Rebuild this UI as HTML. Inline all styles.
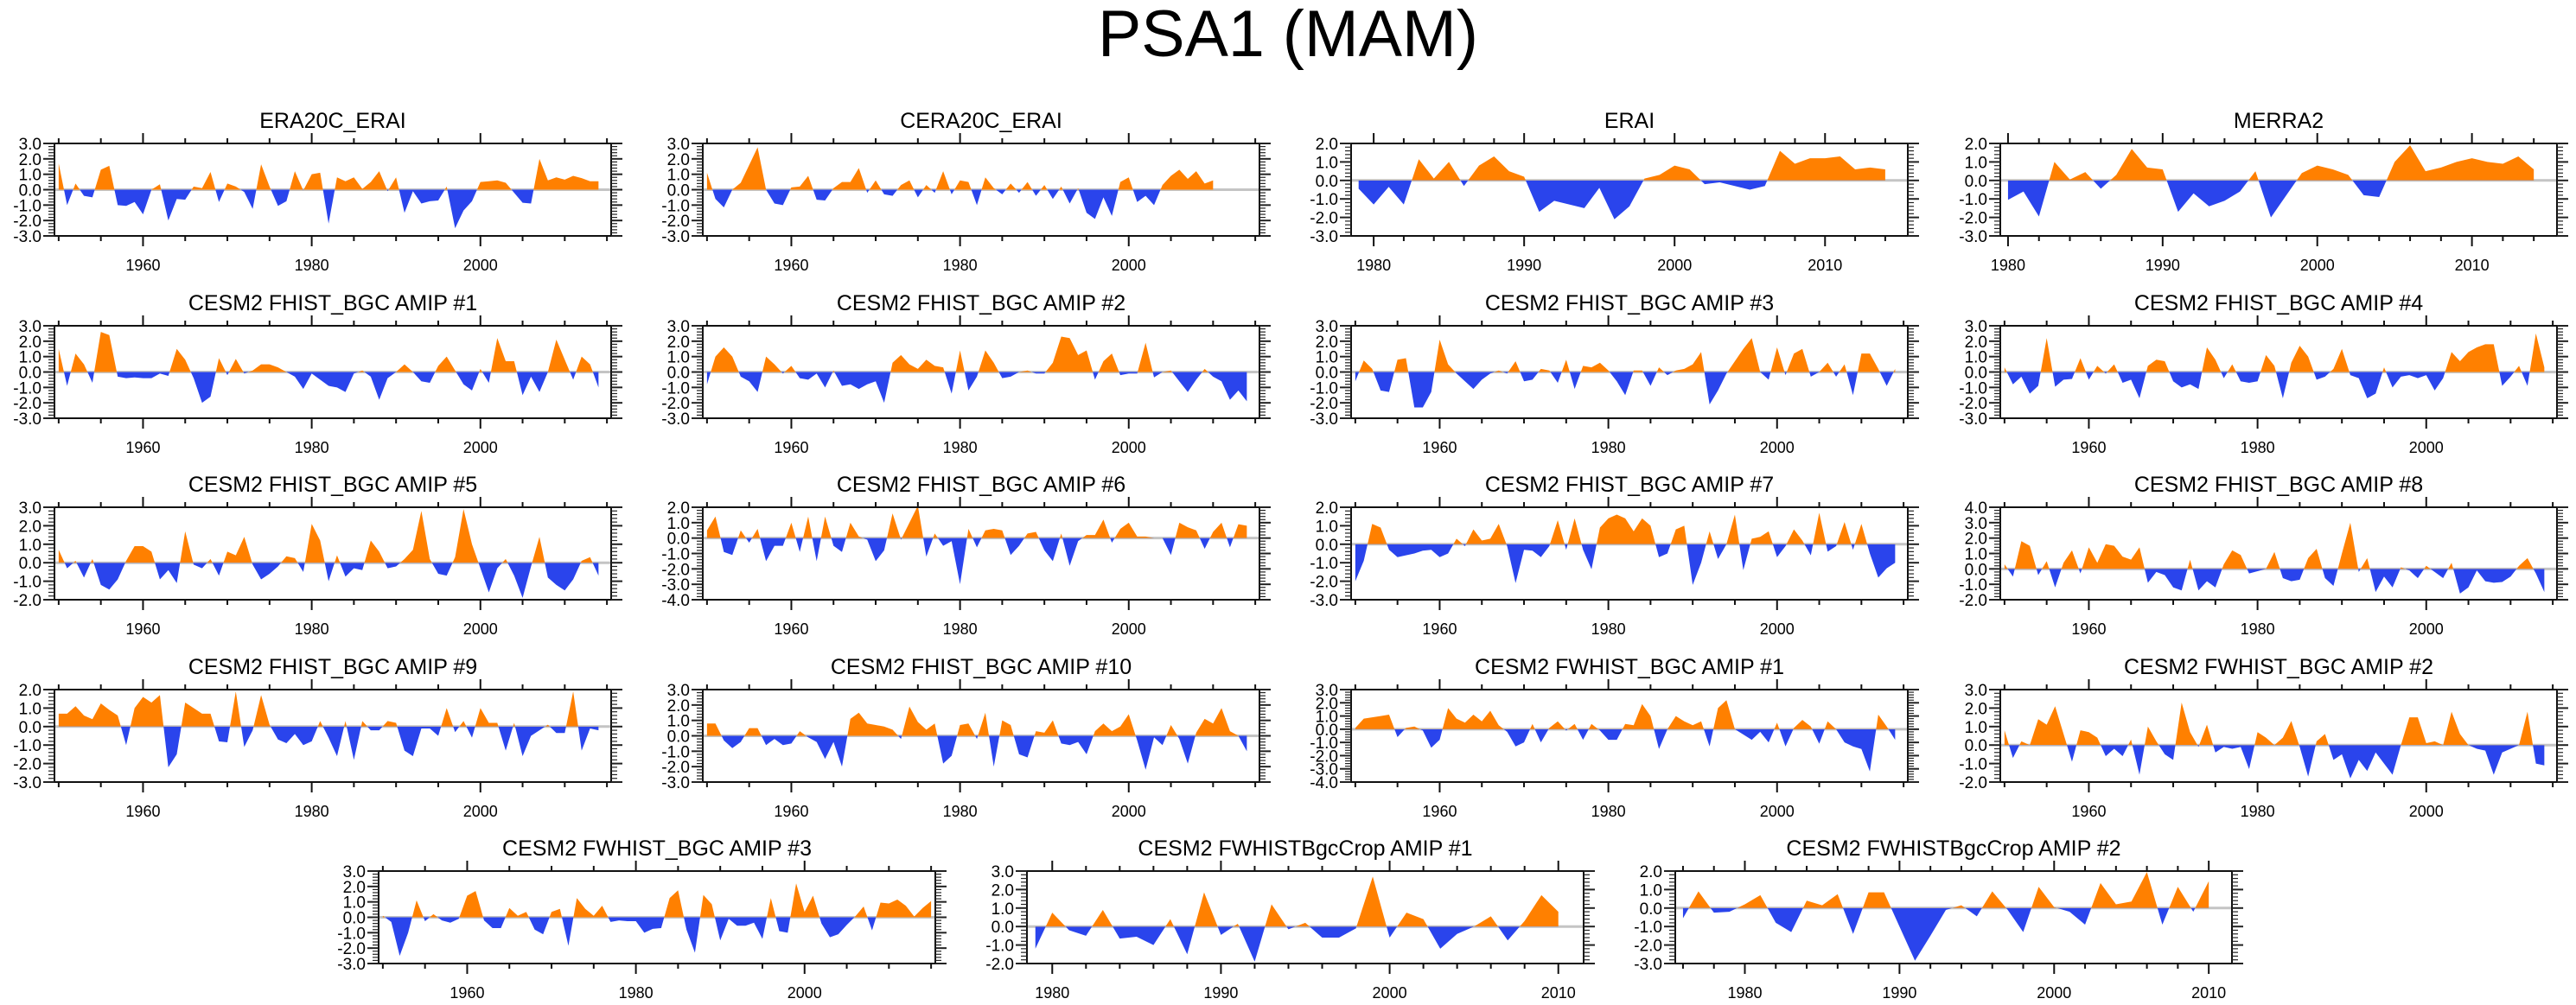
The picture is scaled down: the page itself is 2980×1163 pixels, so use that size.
<!DOCTYPE html>
<html>
<head>
<meta charset="utf-8">
<style>
html,body{margin:0;padding:0;background:#fff;}
svg{display:block;}
text{font-family:"Liberation Sans",Arial,sans-serif;fill:#000;}
</style>
</head>
<body>
<svg id="chart" width="2980" height="1163" viewBox="0 0 2980 1163" xmlns="http://www.w3.org/2000/svg">
<text x="1490" y="65" text-anchor="middle" font-size="76" textLength="440" lengthAdjust="spacingAndGlyphs">PSA1 (MAM)</text>
<g id="panels"></g>
</svg>
<script>
// ---- data (values per year, starting at the given first year) ----
const era20c = [1.7,-1.0,0.4,-0.4,-0.5,1.3,1.55,-1.0,-1.05,-0.8,-1.6,0.0,0.35,-2.0,-0.6,-0.65,0.2,0.1,1.15,-0.8,0.4,0.2,-0.15,-1.25,1.65,0.2,-1.05,-0.75,1.2,-0.05,1.0,1.1,-2.2,0.8,0.55,0.8,0.05,0.5,1.2,-0.1,0.8,-1.5,-0.1,-0.9,-0.75,-0.7,0.2,-2.5,-1.35,-0.75,0.5,0.55,0.6,0.45,-0.2,-0.85,-0.9,2.0,0.6,0.8,0.65,0.9,0.75,0.55,0.55];
const cera20c = [1.1,-0.6,-1.15,0.0,0.45,1.6,2.75,0.0,-0.9,-1.0,0.15,0.2,0.9,-0.65,-0.7,0.1,0.5,0.5,1.4,-0.2,0.6,-0.3,-0.4,0.3,0.6,-0.5,0.3,-0.2,1.2,-0.3,0.6,0.5,-1.0,0.8,0.1,-0.3,0.4,-0.2,0.5,-0.4,0.3,-0.6,0.2,-0.9,0.1,-1.5,-1.9,-0.5,-1.7,0.5,0.8,-0.8,-0.4,-1.0,0.3,0.9,1.3,0.7,1.2,0.4,0.6];
const erai = [-0.45,-1.3,-0.35,-1.3,1.15,0.1,1.0,-0.3,0.8,1.3,0.5,0.2,-1.7,-1.1,-1.3,-1.5,-0.4,-2.1,-1.4,0.1,0.3,0.8,0.6,-0.2,-0.1,-0.3,-0.5,-0.3,1.6,0.9,1.2,1.2,1.3,0.6,0.7,0.6];
const merra2 = [-1.05,-0.6,-1.95,1.0,0.05,0.45,-0.45,0.3,1.7,0.7,0.6,-1.7,-0.7,-1.4,-1.1,-0.6,0.5,-2.0,-0.8,0.4,0.8,0.6,0.3,-0.8,-0.9,1.0,1.9,0.5,0.7,1.0,1.2,1.0,0.9,1.3,0.6];
const fhist1 = [1.5,-0.9,1.2,0.5,-0.7,2.6,2.4,-0.3,-0.4,-0.35,-0.4,-0.4,-0.1,-0.25,1.5,0.8,-0.4,-2.0,-1.6,0.9,-0.2,0.85,-0.1,0.1,0.5,0.5,0.3,0.0,-0.3,-1.1,-0.1,-0.5,-0.9,-1.0,-1.3,-0.1,0.1,-0.3,-1.8,-0.4,0.0,0.5,0.0,-0.6,-0.7,0.4,1.0,0.1,-0.8,-1.2,0.2,-0.7,2.2,0.7,0.7,-1.5,-0.3,-1.3,0.0,2.1,0.8,-0.5,1.0,0.5,-1.0];
const fhist2 = [-0.8,1.0,1.6,1.0,-0.3,-0.6,-1.3,1.0,0.5,-0.1,0.4,-0.4,-0.5,-0.1,-1.0,0.1,-0.9,-0.8,-1.1,-0.8,-0.6,-2.0,0.6,1.1,0.5,0.2,0.8,0.4,0.3,-1.4,1.4,-1.2,-0.3,1.4,0.6,-0.4,-0.3,0.0,0.1,-0.1,-0.1,0.6,2.3,2.2,1.1,1.4,-0.5,0.7,1.2,-0.2,-0.1,-0.1,1.9,-0.35,0.0,0.1,-0.6,-1.3,-0.5,0.2,-0.3,-0.6,-1.8,-1.2,-1.9];
const fhist3 = [-0.6,0.75,0.2,-1.2,-1.3,0.8,0.9,-2.3,-2.3,-1.3,2.1,0.5,-0.1,-0.6,-1.1,-0.5,-0.1,0.1,-0.1,0.7,-0.6,-0.5,0.2,0.1,-0.7,0.8,-1.1,0.4,0.3,0.6,0.1,-0.6,-1.5,0.1,0.1,-0.9,0.3,-0.2,0.1,0.2,0.5,1.3,-2.1,-1.2,-0.1,0.7,1.5,2.2,0.0,-0.5,1.6,-0.2,1.2,1.5,-0.3,0.0,0.6,-0.3,0.5,-1.5,1.2,1.2,0.2,-0.9,0.2];
const fhist4 = [0.3,-0.8,-0.3,-1.4,-0.9,2.2,-0.95,-0.5,-0.45,0.9,-0.5,0.4,-0.1,0.5,-0.7,-0.5,-1.7,0.4,0.8,0.7,-0.6,-1.0,-0.8,-1.1,1.6,0.8,-0.4,0.5,-0.6,-0.7,-0.6,1.1,0.4,-1.7,0.6,1.7,1.0,-0.5,-0.3,0.2,1.5,-0.2,-0.4,-1.7,-1.4,0.3,-1.0,-0.3,-0.2,-0.4,-0.2,-1.2,-0.4,1.3,0.7,1.3,1.6,1.8,1.8,-0.9,-0.3,0.4,-0.9,2.5,0.3];
const fhist5 = [0.7,-0.3,0.1,-0.8,0.2,-1.2,-1.45,-0.9,0.1,0.9,0.9,0.6,-0.9,-0.4,-1.1,1.7,-0.1,-0.3,0.2,-0.7,0.6,0.4,1.4,-0.1,-0.9,-0.6,-0.2,0.35,0.25,-0.5,2.1,1.2,-1.0,0.4,-0.75,-0.3,-0.4,1.2,0.6,-0.3,-0.2,0.2,0.7,2.8,0.2,-0.6,-0.7,0.3,2.9,1.0,-0.3,-1.6,-0.3,0.2,-0.7,-1.9,-0.2,1.4,-0.8,-1.2,-1.5,-0.9,0.1,0.3,-0.7];
const fhist6 = [0.5,1.4,-0.9,-1.1,0.5,-0.3,0.6,-1.5,-0.5,-0.5,1.0,-0.9,1.4,-1.5,1.4,-0.5,-0.9,1.0,0.1,-0.1,-1.5,-0.8,1.6,-0.1,1.0,2.1,-1.2,0.3,-0.5,-0.2,-3.0,0.6,-0.6,0.5,0.6,0.5,-1.1,-0.5,0.3,0.4,-0.8,-1.5,0.3,-1.8,-0.2,0.2,0.2,1.2,-0.3,0.6,1.0,0.1,0.1,0.0,0.0,-1.1,1.0,0.7,0.5,-0.7,0.4,1.0,-0.6,0.9,0.8];
const fhist7 = [-2.0,-0.9,1.1,0.9,-0.3,-0.7,-0.6,-0.5,-0.35,-0.3,-0.7,-0.5,0.3,-0.1,0.8,0.2,0.3,1.1,-0.1,-2.1,-0.3,-0.35,-0.7,-0.1,1.3,-0.3,1.4,-0.3,-1.35,0.9,1.4,1.6,1.4,0.7,1.4,1.0,-0.7,-0.5,0.8,1.0,-2.2,-1.0,0.7,-0.8,0.0,1.6,-1.4,0.3,0.4,0.7,-0.7,-0.1,0.8,0.2,-0.6,1.7,-0.4,-0.1,1.2,-0.3,1.1,-0.5,-1.8,-1.3,-1.0];
const fhist8 = [0.3,-0.5,1.8,1.5,-0.4,0.5,-1.2,0.4,1.2,-0.3,1.4,0.4,1.6,1.5,0.8,0.6,1.4,-0.9,-0.2,-0.4,-1.2,-1.4,0.6,-1.4,-0.8,-1.2,0.3,1.2,0.9,-0.3,-0.15,0.0,1.1,-0.6,-0.8,-0.7,0.7,1.3,-0.6,-1.1,1.0,3.0,-0.2,0.7,-1.5,-0.5,-1.2,0.1,-0.1,-0.6,0.2,-0.2,-0.6,0.4,-1.6,-1.2,-0.1,-0.8,-0.9,-0.85,-0.5,0.2,0.7,-0.3,-1.5];
const fhist9 = [0.7,0.7,1.1,0.6,0.4,1.25,0.9,0.6,-1.0,1.0,1.6,1.3,1.7,-2.2,-1.5,1.3,1.0,0.7,0.7,-0.8,-0.85,1.9,-1.1,-0.2,1.7,0.1,-0.7,-0.9,-0.4,-1.0,-0.8,0.3,-0.6,-1.6,0.3,-1.8,0.3,-0.2,-0.2,0.3,0.2,-1.3,-1.6,-0.1,-0.1,-0.5,1.0,-0.3,0.3,-0.6,1.0,0.2,0.2,-1.3,0.2,-1.6,-0.5,-0.2,0.1,-0.35,-0.35,1.9,-1.3,-0.1,-0.2];
const fhist10 = [0.8,0.8,-0.3,-0.8,-0.4,0.5,0.5,-0.6,-0.2,-0.6,-0.5,0.3,-0.1,-0.4,-1.5,-0.4,-2.0,1.1,1.5,0.8,0.7,0.6,0.4,-0.2,1.9,0.9,0.4,0.8,-1.8,-1.3,0.7,0.8,-0.2,1.5,-2.0,1.0,0.7,-1.2,-1.4,0.3,0.2,1.0,-0.5,-0.6,-0.4,-1.2,0.3,0.8,0.3,0.6,1.4,-0.3,-2.2,-0.1,-0.6,0.7,-0.2,-1.8,0.2,1.1,0.8,1.8,0.3,0.0,-1.0];
const fwhist1 = [0.1,0.8,0.9,1.0,1.1,-0.6,0.1,0.2,-0.1,-1.4,-0.8,1.6,0.8,0.5,1.1,0.6,1.4,0.3,-0.2,-1.3,-1.0,0.4,-1.0,0.1,0.6,-0.1,0.4,-0.8,0.4,-0.1,-0.8,-0.8,0.4,0.3,1.9,1.0,-1.5,0.0,1.0,0.6,0.3,0.6,-1.3,1.6,2.2,0.0,-0.4,-0.8,-0.2,-1.0,0.5,-1.3,0.1,0.7,0.2,-1.1,0.6,0.0,-1.0,-1.3,-1.5,-3.2,1.1,0.2,-0.8];
const fwhist2 = [0.8,-0.7,0.2,0.0,1.4,1.1,2.1,0.6,-0.9,0.8,0.7,0.4,-0.6,-0.2,-0.6,0.3,-1.6,1.0,0.2,-0.5,-0.8,2.3,0.7,-0.1,1.1,-0.4,-0.1,-0.2,-0.1,-1.3,0.7,0.4,0.0,0.4,1.3,-0.1,-1.7,0.2,0.6,-0.8,-0.5,-1.8,-0.8,-1.4,-0.4,-1.0,-1.6,0.0,1.5,1.5,0.1,0.2,0.0,1.8,0.6,0.0,-0.2,-0.3,-1.6,-0.4,-0.2,0.0,1.8,-1.0,-1.1];
const fwhist3 = [0.1,-0.3,-2.5,-1.0,1.1,-0.25,0.2,-0.2,-0.35,-0.1,1.4,1.7,-0.2,-0.7,-0.7,0.6,0.1,0.35,-0.8,-1.1,0.35,0.55,-1.85,1.25,0.55,0.1,0.75,-0.3,-0.2,-0.25,-0.25,-1.0,-0.75,-0.7,1.25,1.75,-0.8,-2.3,1.45,0.85,-1.5,-0.1,-0.55,-0.55,-0.35,-1.4,1.25,-0.9,-1.0,2.2,0.35,1.4,-0.4,-1.3,-1.1,-0.5,0.05,0.7,-0.85,0.95,0.9,1.15,0.75,0.05,0.6,1.05];
const crop1 = [-1.2,0.75,-0.2,-0.5,0.9,-0.65,-0.55,-1.0,0.4,-1.5,1.85,-0.45,0.15,-1.9,1.2,-0.15,0.2,-0.6,-0.6,-0.1,2.7,-0.6,0.75,0.4,-1.2,-0.4,0.0,0.55,-0.75,0.3,1.7,0.8];
const crop2 = [-0.55,0.9,-0.25,-0.2,0.2,0.7,-0.8,-1.3,0.4,0.15,0.75,-1.4,0.85,0.85,-1.0,-2.85,-1.5,-0.1,0.15,-0.45,0.9,-0.1,-1.3,1.15,0.05,-0.2,-0.9,1.35,0.2,0.35,1.95,-0.9,1.15,-0.2,1.45];

// ---- panel categories ----
const panelTitles = ["ERA20C_ERAI","CERA20C_ERAI","ERAI","MERRA2",
 "CESM2 FHIST_BGC AMIP #1","CESM2 FHIST_BGC AMIP #2","CESM2 FHIST_BGC AMIP #3","CESM2 FHIST_BGC AMIP #4",
 "CESM2 FHIST_BGC AMIP #5","CESM2 FHIST_BGC AMIP #6","CESM2 FHIST_BGC AMIP #7","CESM2 FHIST_BGC AMIP #8",
 "CESM2 FHIST_BGC AMIP #9","CESM2 FHIST_BGC AMIP #10","CESM2 FWHIST_BGC AMIP #1","CESM2 FWHIST_BGC AMIP #2",
 "CESM2 FWHIST_BGC AMIP #3","CESM2 FWHISTBgcCrop AMIP #1","CESM2 FWHISTBgcCrop AMIP #2"];
const panelSeries = [era20c,cera20c,erai,merra2,fhist1,fhist2,fhist3,fhist4,fhist5,fhist6,fhist7,fhist8,fhist9,fhist10,fwhist1,fwhist2,fwhist3,crop1,crop2];
const firstYears = [1950,1950,1979,1980,1950,1950,1950,1950,1950,1950,1950,1950,1950,1950,1950,1950,1950,1979,1976];
const xMinYears = [1949.5,1949.5,1978.5,1979.5,1949.5,1949.5,1949.5,1949.5,1949.5,1949.5,1949.5,1949.5,1949.5,1949.5,1949.5,1949.5,1949.5,1978.5,1975.5];
const xMaxYears = [2015.5,2015.5,2015.5,2015.5,2015.5,2015.5,2015.5,2015.5,2015.5,2015.5,2015.5,2015.5,2015.5,2015.5,2015.5,2015.5,2015.5,2011.5,2011.5];
const yMins = [-3,-3,-3,-3,-3,-3,-3,-3,-2,-4,-3,-2,-3,-3,-4,-2,-3,-2,-3];
const yMaxs = [3,3,2,2,3,3,3,3,3,2,2,4,2,3,3,3,3,3,2];

const NS = "http://www.w3.org/2000/svg";
const root = document.getElementById("panels");
const W = 644, H = 107;
const rowTops = [166,377,587,798,1008];
const colLefts = [63,813,1563,2314];
const row5Lefts = [438,1188,1938];

function mk(tag, attrs, parent){
  const e = document.createElementNS(NS, tag);
  for (const k in attrs) e.setAttribute(k, attrs[k]);
  parent.appendChild(e);
  return e;
}
function slug(s){return s.toLowerCase().replace(/[^a-z0-9]+/g,'-').replace(/^-|-$/g,'');}

for (let p = 0; p < panelTitles.length; p++) {
  const left = p < 16 ? colLefts[p % 4] : row5Lefts[p - 16];
  const top = p < 16 ? rowTops[Math.floor(p / 4)] : rowTops[4];
  const x0 = xMinYears[p], x1 = xMaxYears[p], y0 = yMins[p], y1 = yMaxs[p];
  const xs = v => left + (v - x0) / (x1 - x0) * W;
  const ys = v => top + (y1 - v) / (y1 - y0) * H;
  const name = slug(panelTitles[p]);
  const g = mk("g", {}, root);
  
  

  const t = mk("text", {x: left + W/2, y: top - 18, "text-anchor": "middle", "font-size": 25}, g);
  t.textContent = panelTitles[p];
  
  

  const zy = ys(0);
  const defs = mk("defs", {}, g);
  const cpA = mk("clipPath", {id: "ca" + p}, defs);
  mk("rect", {x: left, y: top, width: W, height: zy - top}, cpA);
  const cpB = mk("clipPath", {id: "cb" + p}, defs);
  mk("rect", {x: left, y: zy, width: W, height: top + H - zy}, cpB);

  const zl = mk("line", {x1: left, x2: left + W, y1: zy, y2: zy, stroke: "#c4c4c4", "stroke-width": 3}, g);
  
  

  const data = panelSeries[p], fy = firstYears[p];
  let pts = xs(fy).toFixed(2) + "," + zy.toFixed(2);
  for (let i = 0; i < data.length; i++) pts += " " + xs(fy + i).toFixed(2) + "," + ys(data[i]).toFixed(2);
  pts += " " + xs(fy + data.length - 1).toFixed(2) + "," + zy.toFixed(2);
  const pa = mk("polygon", {points: pts, fill: "#ff8000", "clip-path": "url(#ca" + p + ")"}, g);
  
  
  const pb = mk("polygon", {points: pts, fill: "#2a44ec", "clip-path": "url(#cb" + p + ")"}, g);
  
  

  const fr = mk("rect", {x: left, y: top, width: W, height: H, fill: "none", stroke: "#111", "stroke-width": 2}, g);
  
  

  const longSpan = (x1 - x0) > 50;
  const minorStep = longSpan ? 5 : 2;
  const tk = mk("g", {stroke: "#111", "stroke-width": 2}, g);
  
  
  for (let yr = Math.ceil(x0 / minorStep) * minorStep; yr <= x1; yr += minorStep) {
    const isLabel = longSpan ? (yr % 20 === 0) : (yr % 10 === 0);
    const L = isLabel ? 12 : 6;
    const x = xs(yr);
    mk("line", {x1: x, x2: x, y1: top, y2: top - L}, tk);
    mk("line", {x1: x, x2: x, y1: top + H, y2: top + H + L}, tk);
    if (isLabel) {
      const lt = mk("text", {x: x, y: top + H + 40, "text-anchor": "middle", "font-size": 18, stroke: "none"}, g);
      lt.textContent = yr;
      
      
    }
  }
  const yt = mk("g", {stroke: "#222", "stroke-width": 1.5}, g);
  
  
  for (let k = Math.round(y0 * 5); k <= Math.round(y1 * 5); k++) {
    const v = k / 5, y = ys(v);
    const major = k % 5 === 0;
    const L = major ? 13 : 7;
    mk("line", {x1: left, x2: left - L, y1: y, y2: y, "stroke-width": major ? 2 : 1.2}, yt);
    mk("line", {x1: left + W, x2: left + W + L, y1: y, y2: y, "stroke-width": major ? 2 : 1.2}, yt);
    if (major) {
      const lt = mk("text", {x: left - 15, y: y + 7, "text-anchor": "end", "font-size": 19}, g);
      lt.textContent = v.toFixed(1);
      
      
    }
  }
}
</script>
</body>
</html>
